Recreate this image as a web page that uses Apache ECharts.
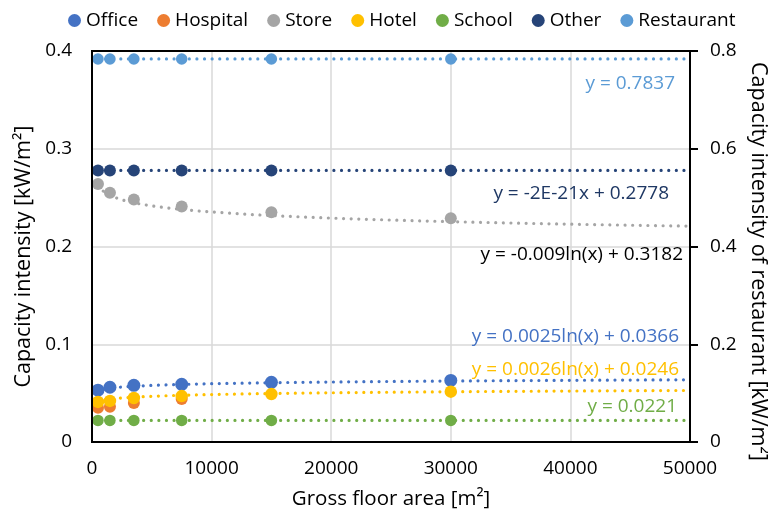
<!DOCTYPE html>
<html>
<head>
<meta charset="utf-8">
<script src="https://cdn.jsdelivr.net/npm/echarts@6/dist/echarts.min.js"></script>
<style>html,body{margin:0;padding:0;background:#fff}#c{width:768px;height:515px}</style>
</head>
<body>
<div id="c"></div>
<script>
// ---- data ----
const gfa = [500, 1500, 3500, 7500, 15000, 30000];
const gfaHospital = [500, 1500, 3500, 7500];
const office = [0.053, 0.056, 0.058, 0.059, 0.061, 0.063];
const hospital = [0.035, 0.036, 0.040, 0.044];
const store = [0.264, 0.255, 0.248, 0.241, 0.235, 0.229];
const hotel = [0.041, 0.042, 0.045, 0.047, 0.049, 0.0515];
const school = [0.0221, 0.0221, 0.0221, 0.0221, 0.0221, 0.0221];
const other = [0.2778, 0.2778, 0.2778, 0.2778, 0.2778, 0.2778];
const restaurant = [0.7837, 0.7837, 0.7837, 0.7837, 0.7837, 0.7837];
// trendline equations shown in the chart: [type, a, b]
const trendOffice = ['log', 0.0025, 0.0366];
const trendHotel = ['log', 0.0026, 0.0246];
const trendStore = ['log', -0.009, 0.3182];
const trendOther = ['lin', -2e-21, 0.2778];
const trendSchool = ['lin', 0, 0.0221];
const trendRestaurant = ['lin', 0, 0.7837];
const trendRange = [500, 50000];
const labels = {
  restaurant: 'y = 0.7837',
  other: 'y = -2E-21x + 0.2778',
  store: 'y = -0.009ln(x) + 0.3182',
  office: 'y = 0.0025ln(x) + 0.0366',
  hotel: 'y = 0.0026ln(x) + 0.0246',
  school: 'y = 0.0221'
};

const colors = {
  Office: '#4472C4', Hospital: '#ED7D31', Store: '#A5A5A5', Hotel: '#FFC000',
  School: '#70AD47', Other: '#264478', Restaurant: '#5B9BD5'
};
const FONT = 'Open Sans';
const FS = 19;
const FS_TITLE_Y = 21.5;
const FS_TITLE_X = 20.5;
const G = { left: 92, right: 78, top: 51, bottom: 73 };

function pairs(xs, ys) { return xs.map((x, i) => [x, ys[i]]); }
function trend(t) {
  const pts = [];
  const n = 200;
  for (let i = 0; i <= n; i++) {
    const x = trendRange[0] + (trendRange[1] - trendRange[0]) * i / n;
    const y = t[0] === 'log' ? t[1] * Math.log(x) + t[2] : t[1] * x + t[2];
    pts.push([x, y]);
  }
  return pts;
}
const dotted = (c) => ({ color: c, width: 3.2, type: [0.01, 7.6], cap: 'round' });
function trendSeries(t, c, yi) {
  return { type: 'line', data: trend(t), yAxisIndex: yi || 0, showSymbol: false, symbol: 'none',
    lineStyle: dotted(c), z: 2, silent: true, animation: false };
}
function sc(name, xs, ys, yi, size) {
  return { name, type: 'scatter', data: pairs(xs, ys), yAxisIndex: yi || 0, symbolSize: size || 12,
    itemStyle: { color: colors[name], opacity: 1 }, z: 5, animation: false };
}

const chart = echarts.init(document.getElementById('c'), null, { renderer: 'canvas', width: 768, height: 515 });
const W = 768, H = 515;
const X0 = G.left, X1 = W - G.right, Y0 = G.top, Y1 = H - G.bottom;
const txt = (text, x, y, color) => ({ type: 'text', x, y, style: { text, textAlign: 'right', textVerticalAlign: 'middle', font: FS + 'px "' + FONT + '"', fill: color }, z: 10 });
const seg = (x1, y1, x2, y2) => ({ type: 'line', z: 100, silent: true,
  shape: { x1, y1, x2, y2 }, style: { stroke: '#000000', lineWidth: 2, fill: null } });
const grid = () => ({ show: true, showMinLine: false, showMaxLine: false, lineStyle: { color: '#D9D9D9', width: 1.5 } });
const axLine = () => ({ show: true, onZero: false, lineStyle: { color: '#000', width: 2 } });

chart.setOption({
  animation: false,
  textStyle: { fontFamily: FONT },
  color: Object.values(colors),
  grid: Object.assign({ containLabel: false, outerBoundsMode: 'none' }, G),
  legend: {
    data: ['Office', 'Hospital', 'Store', 'Hotel', 'School', 'Other', 'Restaurant'],
    left: 63, top: 6, icon: 'circle', itemWidth: 13, itemHeight: 13, itemGap: 19,
    textStyle: { fontSize: FS, color: '#000', fontFamily: FONT }
  },
  xAxis: [{
    type: 'value', min: 0, max: 50000, interval: 10000, position: 'bottom',
    name: 'Gross floor area [m²]', nameLocation: 'middle', nameGap: 47,
    nameTextStyle: { fontSize: FS_TITLE_X, color: '#000', fontFamily: FONT },
    axisLine: axLine(), axisTick: { show: false },
    axisLabel: { fontSize: FS, color: '#000', margin: 17, fontFamily: FONT, formatter: v => String(v) },
    splitLine: grid()
  }],
  yAxis: [{
    type: 'value', min: 0, max: 0.4, interval: 0.1, position: 'left',
    name: 'Capacity intensity [kW/m²]', nameLocation: 'middle', nameGap: 56,
    nameTextStyle: { fontSize: FS_TITLE_Y, color: '#000', fontFamily: FONT, padding: [0, 0, 0, -20] },
    axisLine: axLine(), axisTick: { show: false },
    axisLabel: { fontSize: FS, color: '#000', margin: 20, fontFamily: FONT, formatter: v => v === 0 ? '0' : v.toFixed(1) },
    splitLine: grid()
  }, {
    type: 'value', min: 0, max: 0.8, interval: 0.2, position: 'right',
    name: 'Capacity intensity of restaurant [kW/m²]', nameLocation: 'middle', nameGap: 54, nameRotate: -90,
    nameTextStyle: { fontSize: FS_TITLE_Y, color: '#000', fontFamily: FONT, padding: [0, 0, 0, 30] },
    axisLine: axLine(),
    axisTick: { show: true, length: 8, lineStyle: { color: '#000', width: 2 } },
    axisLabel: { fontSize: FS, color: '#000', margin: 20, fontFamily: FONT, formatter: v => v === 0 ? '0' : v.toFixed(1) },
    splitLine: { show: false }
  }],
  series: [
    trendSeries(trendOffice, colors.Office),
    trendSeries(trendStore, colors.Store),
    trendSeries(trendHotel, colors.Hotel),
    trendSeries(trendSchool, colors.School),
    trendSeries(trendOther, colors.Other),
    trendSeries(trendRestaurant, colors.Restaurant, 1),
    sc('Office', gfa, office, 0, 13),
    sc('Hospital', gfaHospital, hospital, 0, 12),
    sc('Store', gfa, store, 0, 12),
    sc('Hotel', gfa, hotel, 0, 12.5),
    sc('School', gfa, school, 0, 11.5),
    sc('Other', gfa, other, 0, 12),
    sc('Restaurant', gfa, restaurant, 1, 11.5)
  ],
  graphic: {
    elements: [
      seg(X0, Y0, X1, Y0),
      seg(X0, Y1, X1, Y1),
      seg(X0, Y0 - 1, X0, Y1 + 1),
      seg(X1, Y0 - 1, X1, Y1 + 1),
      txt(labels.restaurant, 675, 84, '#5B9BD5'),
      txt(labels.other, 669, 194, '#1F3864'),
      txt(labels.store, 683, 255, '#000'),
      txt(labels.office, 679, 337, '#4472C4'),
      txt(labels.hotel, 679, 370, '#FFC000'),
      txt(labels.school, 677, 407, '#70AD47')
    ]
  }
});
</script>
</body>
</html>
